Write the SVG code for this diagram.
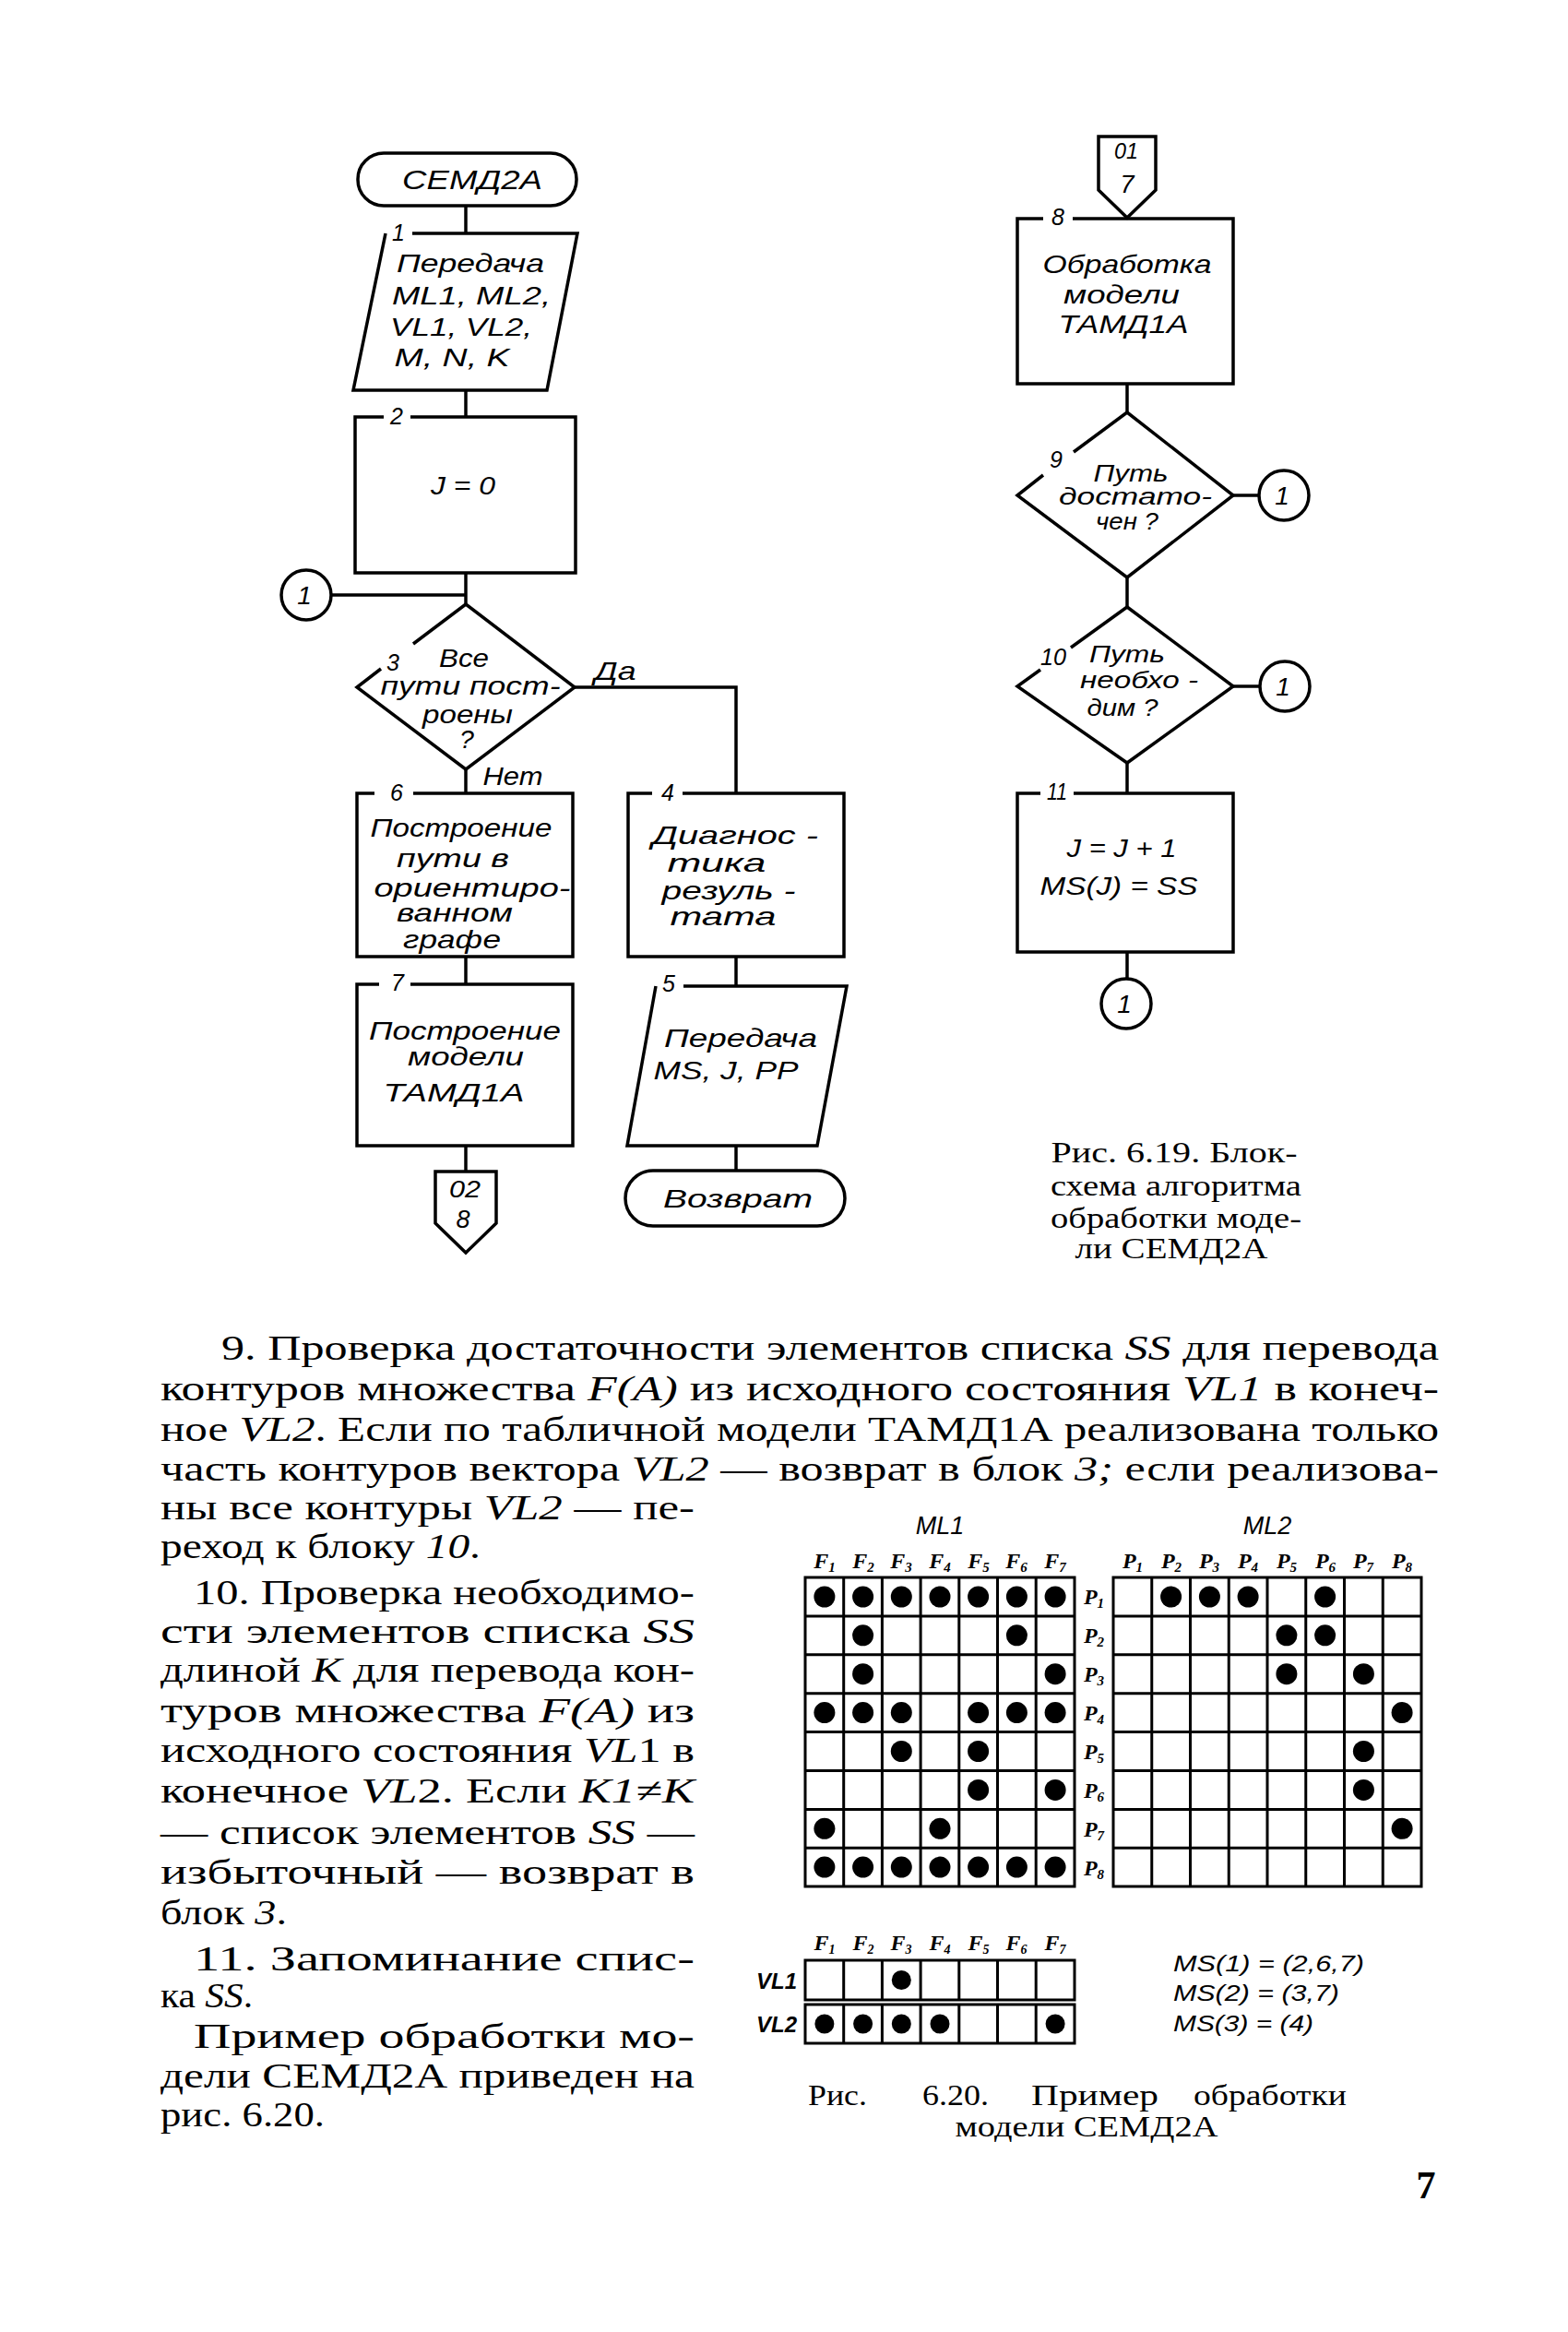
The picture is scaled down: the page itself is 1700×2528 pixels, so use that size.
<svg xmlns="http://www.w3.org/2000/svg" width="1700" height="2528" viewBox="0 0 1700 2528">
<style>
.ln{fill:none;stroke:#000;stroke-width:3.5;stroke-linejoin:miter}
.fc{font-family:"Liberation Sans","DejaVu Sans",sans-serif;font-style:italic;font-size:28px;text-anchor:middle;fill:#000}
.fd{font-family:"Liberation Sans","DejaVu Sans",sans-serif;font-style:italic;font-size:25px;text-anchor:middle;fill:#000}
.lb{font-family:"Liberation Sans","DejaVu Sans",sans-serif;font-style:italic;font-size:25px;text-anchor:middle;fill:#000}
.bd{font-family:"Liberation Serif","DejaVu Serif",serif;font-size:38px;fill:#000}
.it{font-style:italic}
.cp{font-family:"Liberation Serif","DejaVu Serif",serif;font-size:31px;text-anchor:middle;fill:#000}
.hd{font-family:"Liberation Serif","DejaVu Serif",serif;font-style:italic;font-weight:bold;font-size:24px;text-anchor:middle;fill:#000}
.tl{font-family:"Liberation Sans","DejaVu Sans",sans-serif;font-style:italic;font-size:24px;fill:#000}
.gr{fill:none;stroke:#000;stroke-width:3}
.pg{font-family:"Liberation Serif","DejaVu Serif",serif;font-weight:bold;font-size:42px;text-anchor:middle;fill:#000}
</style>
<defs>
<circle id="d" r="11.5" fill="#000"/>
<circle id="ds" r="10.5" fill="#000"/>
</defs>

<g id="connectors" class="ln">
<path d="M505,223 V253"/>
<path d="M505,423 V452"/>
<path d="M505,621 V655"/>
<path d="M359,645 H505"/>
<path d="M623,745 H798 V860"/>
<path d="M505,834 V860"/>
<path d="M505,1037 V1067"/>
<path d="M798,1037 V1069"/>
<path d="M505,1242 V1270"/>
<path d="M798,1242 V1269"/>
<path d="M1222,416 V447"/>
<path d="M1337,537 H1365"/>
<path d="M1222,626 V658"/>
<path d="M1337,744 H1366"/>
<path d="M1222,827 V860"/>
<path d="M1222,1032 V1061"/>
</g>
<g id="edge-labels">
<text class="fc" x="667" y="737" textLength="45" lengthAdjust="spacingAndGlyphs">Да</text>
<text class="fc" x="556" y="851" textLength="65" lengthAdjust="spacingAndGlyphs">Нет</text>
</g>

<g id="n-start">
<rect class="ln" x="388" y="166" width="237" height="57" rx="28"/>
<text class="fc" x="512" y="205" style="font-size:30px" textLength="152" lengthAdjust="spacingAndGlyphs">СЕМД2А</text>
</g>

<g id="n1">
<path class="ln" d="M447,253 L626,253 L593,423 L383,423 L418,253"/>
<text class="lb" x="432" y="261">1</text>
<text class="fc" x="510" y="295" textLength="160" lengthAdjust="spacingAndGlyphs">Передача</text>
<text class="fc" x="511" y="330" textLength="172" lengthAdjust="spacingAndGlyphs">ML1, ML2,</text>
<text class="fc" x="500" y="364" textLength="154" lengthAdjust="spacingAndGlyphs">VL1, VL2,</text>
<text class="fc" x="490" y="397" textLength="125" lengthAdjust="spacingAndGlyphs">M, N, K</text>
</g>

<g id="n2">
<path class="ln" d="M445,452 H624 V621 H385 V452 H416"/>
<text class="lb" x="430" y="460">2</text>
<text class="fc" x="502" y="536" textLength="70" lengthAdjust="spacingAndGlyphs">J = 0</text>
</g>

<g id="c1a">
<circle class="ln" cx="332" cy="645" r="27"/>
<text class="fc" x="330" y="655">1</text>
</g>

<g id="n3">
<path class="ln" d="M448,698 L505,655 L623,745 L505,834 L387,745 L413,725"/>
<text class="lb" x="426" y="727">3</text>
<text class="fc" x="503" y="723" textLength="54" lengthAdjust="spacingAndGlyphs">Все</text>
<text class="fc" x="510" y="753" textLength="195" lengthAdjust="spacingAndGlyphs">пути пост-</text>
<text class="fc" x="507" y="784" textLength="98" lengthAdjust="spacingAndGlyphs">роены</text>
<text class="fc" x="506" y="811">?</text>
</g>

<g id="n6">
<path class="ln" d="M448,860 H621 V1037 H387 V860 H406"/>
<text class="lb" x="430" y="868">6</text>
<text class="fc" x="500" y="907" textLength="197" lengthAdjust="spacingAndGlyphs">Построение</text>
<text class="fc" x="491" y="940" textLength="122" lengthAdjust="spacingAndGlyphs">пути в</text>
<text class="fc" x="512" y="972" textLength="213" lengthAdjust="spacingAndGlyphs">ориентиро-</text>
<text class="fc" x="493" y="999" textLength="126" lengthAdjust="spacingAndGlyphs">ванном</text>
<text class="fc" x="490" y="1028" textLength="106" lengthAdjust="spacingAndGlyphs">графе</text>
</g>

<g id="n4">
<path class="ln" d="M740,860 H915 V1037 H681 V860 H707"/>
<text class="lb" x="724" y="868">4</text>
<text class="fc" x="797" y="915" textLength="180" lengthAdjust="spacingAndGlyphs">Диагнос -</text>
<text class="fc" x="777" y="945" textLength="107" lengthAdjust="spacingAndGlyphs">тика</text>
<text class="fc" x="790" y="975" textLength="145" lengthAdjust="spacingAndGlyphs">резуль -</text>
<text class="fc" x="784" y="1003" textLength="115" lengthAdjust="spacingAndGlyphs">тата</text>
</g>

<g id="n7">
<path class="ln" d="M445,1067 H621 V1242 H387 V1067 H411"/>
<text class="lb" x="431" y="1074">7</text>
<text class="fc" x="504" y="1127" textLength="208" lengthAdjust="spacingAndGlyphs">Построение</text>
<text class="fc" x="505" y="1155" textLength="126" lengthAdjust="spacingAndGlyphs">модели</text>
<text class="fc" x="492" y="1194" textLength="153" lengthAdjust="spacingAndGlyphs">ТАМД1А</text>
</g>

<g id="n5">
<path class="ln" d="M741,1069 L918,1069 L886,1242 L680,1242 L711,1069"/>
<text class="lb" x="725" y="1075">5</text>
<text class="fc" x="803" y="1135" textLength="166" lengthAdjust="spacingAndGlyphs">Передача</text>
<text class="fc" x="787" y="1170" textLength="157" lengthAdjust="spacingAndGlyphs">MS, J, PP</text>
</g>

<g id="n-off02">
<path class="ln" d="M472,1270 H538 V1326 L505,1358 L472,1326 Z"/>
<text class="fc" x="504" y="1298" style="font-size:25px" textLength="34" lengthAdjust="spacingAndGlyphs">02</text>
<text class="fc" x="502" y="1331" style="font-size:27px">8</text>
</g>

<g id="n-ret">
<rect class="ln" x="678" y="1269" width="238" height="60" rx="30"/>
<text class="fc" x="800" y="1309" textLength="162" lengthAdjust="spacingAndGlyphs">Возврат</text>
</g>

<g id="n-off01">
<path class="ln" d="M1191,148 H1253 V206 L1222,236 L1191,206 Z"/>
<text class="fc" x="1221" y="172" style="font-size:24px" textLength="26" lengthAdjust="spacingAndGlyphs">01</text>
<text class="fc" x="1222" y="209" style="font-size:27px">7</text>
</g>

<g id="n8">
<path class="ln" d="M1163,237 H1337 V416 H1103 V237 H1131"/>
<text class="lb" x="1147" y="244">8</text>
<text class="fc" x="1222" y="296" textLength="183" lengthAdjust="spacingAndGlyphs">Обработка</text>
<text class="fc" x="1216" y="329" textLength="126" lengthAdjust="spacingAndGlyphs">модели</text>
<text class="fc" x="1218" y="361" textLength="141" lengthAdjust="spacingAndGlyphs">ТАМД1А</text>
</g>

<g id="n9">
<path class="ln" d="M1164,490 L1222,447 L1337,537 L1222,626 L1103,537 L1131,515"/>
<text class="lb" x="1145" y="507">9</text>
<text class="fd" x="1226" y="522" textLength="81" lengthAdjust="spacingAndGlyphs">Путь</text>
<text class="fd" x="1231" y="547" textLength="166" lengthAdjust="spacingAndGlyphs">достато-</text>
<text class="fd" x="1222" y="574" textLength="68" lengthAdjust="spacingAndGlyphs">чен ?</text>
</g>

<g id="c1b">
<circle class="ln" cx="1392" cy="537" r="27"/>
<text class="fc" x="1390" y="547">1</text>
</g>

<g id="n10">
<path class="ln" d="M1161,702 L1222,658 L1337,744 L1222,827 L1103,744 L1128,726"/>
<text class="lb" x="1142" y="721" textLength="28" lengthAdjust="spacingAndGlyphs">10</text>
<text class="fd" x="1222" y="718" textLength="82" lengthAdjust="spacingAndGlyphs">Путь</text>
<text class="fd" x="1235" y="746" textLength="128" lengthAdjust="spacingAndGlyphs">необхо -</text>
<text class="fd" x="1217" y="776" textLength="77" lengthAdjust="spacingAndGlyphs">дим ?</text>
</g>

<g id="c1c">
<circle class="ln" cx="1393" cy="744" r="27"/>
<text class="fc" x="1391" y="754">1</text>
</g>

<g id="n11">
<path class="ln" d="M1164,860 H1337 V1032 H1103 V860 H1128"/>
<text class="lb" x="1146" y="867" textLength="22" lengthAdjust="spacingAndGlyphs">11</text>
<text class="fc" x="1216" y="929" textLength="119" lengthAdjust="spacingAndGlyphs">J = J + 1</text>
<text class="fc" x="1213" y="970" textLength="171" lengthAdjust="spacingAndGlyphs">MS(J) = SS</text>
</g>

<g id="c1d">
<circle class="ln" cx="1221" cy="1088" r="27"/>
<text class="fc" x="1219" y="1098">1</text>
</g>

<g id="caption-619">
<text class="cp" x="1273" y="1260" textLength="267" lengthAdjust="spacingAndGlyphs">Рис. 6.19. Блок-</text>
<text class="cp" x="1275" y="1296" textLength="272" lengthAdjust="spacingAndGlyphs">схема алгоритма</text>
<text class="cp" x="1275" y="1331" textLength="272" lengthAdjust="spacingAndGlyphs">обработки моде-</text>
<text class="cp" x="1270" y="1364" textLength="209" lengthAdjust="spacingAndGlyphs">ли СЕМД2А</text>
</g>

<g id="body-text">
<text class="bd" x="240" y="1474" textLength="1320" lengthAdjust="spacingAndGlyphs">9. Проверка достаточности элементов списка <tspan class="it">SS</tspan> для перевода</text>
<text class="bd" x="174" y="1518" textLength="1386" lengthAdjust="spacingAndGlyphs">контуров множества <tspan class="it">F(A)</tspan> из исходного состояния <tspan class="it">VL1</tspan> в конеч-</text>
<text class="bd" x="174" y="1562" textLength="1386" lengthAdjust="spacingAndGlyphs">ное <tspan class="it">VL2</tspan>. Если по табличной модели ТАМД1А реализована только</text>
<text class="bd" x="174" y="1605" textLength="1386" lengthAdjust="spacingAndGlyphs">часть контуров вектора <tspan class="it">VL2</tspan> — возврат в блок <tspan class="it">3;</tspan> если реализова-</text>
<text class="bd" x="174" y="1647" textLength="579" lengthAdjust="spacingAndGlyphs">ны все контуры <tspan class="it">VL2</tspan> — пе-</text>
<text class="bd" x="174" y="1689" textLength="347" lengthAdjust="spacingAndGlyphs">реход к блоку <tspan class="it">10</tspan>.</text>
<text class="bd" x="210" y="1739" textLength="543" lengthAdjust="spacingAndGlyphs">10. Проверка необходимо-</text>
<text class="bd" x="174" y="1781" textLength="579" lengthAdjust="spacingAndGlyphs">сти элементов списка <tspan class="it">SS</tspan></text>
<text class="bd" x="174" y="1823" textLength="579" lengthAdjust="spacingAndGlyphs">длиной <tspan class="it">K</tspan> для перевода кон-</text>
<text class="bd" x="174" y="1867" textLength="579" lengthAdjust="spacingAndGlyphs">туров множества <tspan class="it">F(A)</tspan> из</text>
<text class="bd" x="174" y="1910" textLength="579" lengthAdjust="spacingAndGlyphs">исходного состояния <tspan class="it">VL</tspan>1 в</text>
<text class="bd" x="174" y="1954" textLength="579" lengthAdjust="spacingAndGlyphs">конечное <tspan class="it">VL</tspan>2. Если <tspan class="it">K1≠K</tspan></text>
<text class="bd" x="174" y="1999" textLength="579" lengthAdjust="spacingAndGlyphs">— список элементов <tspan class="it">SS</tspan> —</text>
<text class="bd" x="174" y="2042" textLength="579" lengthAdjust="spacingAndGlyphs">избыточный — возврат в</text>
<text class="bd" x="174" y="2086" textLength="137" lengthAdjust="spacingAndGlyphs">блок <tspan class="it">3</tspan>.</text>
<text class="bd" x="210" y="2136" textLength="543" lengthAdjust="spacingAndGlyphs">11. Запоминание спис-</text>
<text class="bd" x="174" y="2176" textLength="100" lengthAdjust="spacingAndGlyphs">ка <tspan class="it">SS</tspan>.</text>
<text class="bd" x="210" y="2220" textLength="543" lengthAdjust="spacingAndGlyphs">Пример обработки мо-</text>
<text class="bd" x="174" y="2263" textLength="579" lengthAdjust="spacingAndGlyphs">дели СЕМД2А приведен на</text>
<text class="bd" x="174" y="2305" textLength="178" lengthAdjust="spacingAndGlyphs">рис. 6.20.</text>
</g>

<g id="table-ML1">
<text class="tl" x="1019" y="1663" text-anchor="middle" style="font-size:27px">ML1</text>
<g class="hd">
<text x="894" y="1700">F<tspan font-size="15" dy="4">1</tspan></text>
<text x="936" y="1700">F<tspan font-size="15" dy="4">2</tspan></text>
<text x="977" y="1700">F<tspan font-size="15" dy="4">3</tspan></text>
<text x="1019" y="1700">F<tspan font-size="15" dy="4">4</tspan></text>
<text x="1061" y="1700">F<tspan font-size="15" dy="4">5</tspan></text>
<text x="1102" y="1700">F<tspan font-size="15" dy="4">6</tspan></text>
<text x="1144" y="1700">F<tspan font-size="15" dy="4">7</tspan></text>
</g>
<path class="gr" d="M873,1710 H1165 V2045 H873 Z M914.7,1710 V2045 M956.4,1710 V2045 M998.1,1710 V2045 M1039.8,1710 V2045 M1081.5,1710 V2045 M1123.2,1710 V2045 M873,1751.9 H1165 M873,1793.8 H1165 M873,1835.7 H1165 M873,1877.6 H1165 M873,1919.5 H1165 M873,1961.4 H1165 M873,2003.3 H1165"/>
<use href="#d" x="893.9" y="1731"/><use href="#d" x="935.6" y="1731"/><use href="#d" x="977.3" y="1731"/><use href="#d" x="1019" y="1731"/><use href="#d" x="1060.6" y="1731"/><use href="#d" x="1102.4" y="1731"/><use href="#d" x="1144.1" y="1731"/>
<use href="#d" x="935.6" y="1772.8"/><use href="#d" x="1102.4" y="1772.8"/>
<use href="#d" x="935.6" y="1814.7"/><use href="#d" x="1144.1" y="1814.7"/>
<use href="#d" x="893.9" y="1856.6"/><use href="#d" x="935.6" y="1856.6"/><use href="#d" x="977.3" y="1856.6"/><use href="#d" x="1060.6" y="1856.6"/><use href="#d" x="1102.4" y="1856.6"/><use href="#d" x="1144.1" y="1856.6"/>
<use href="#d" x="977.3" y="1898.5"/><use href="#d" x="1060.6" y="1898.5"/>
<use href="#d" x="1060.6" y="1940.4"/><use href="#d" x="1144.1" y="1940.4"/>
<use href="#d" x="893.9" y="1982.3"/><use href="#d" x="1019" y="1982.3"/>
<use href="#d" x="893.9" y="2024.1"/><use href="#d" x="935.6" y="2024.1"/><use href="#d" x="977.3" y="2024.1"/><use href="#d" x="1019" y="2024.1"/><use href="#d" x="1060.6" y="2024.1"/><use href="#d" x="1102.4" y="2024.1"/><use href="#d" x="1144.1" y="2024.1"/>
</g>

<g id="row-labels">
<g class="hd">
<text x="1186" y="1739">P<tspan font-size="15" dy="4">1</tspan></text>
<text x="1186" y="1781">P<tspan font-size="15" dy="4">2</tspan></text>
<text x="1186" y="1823">P<tspan font-size="15" dy="4">3</tspan></text>
<text x="1186" y="1865">P<tspan font-size="15" dy="4">4</tspan></text>
<text x="1186" y="1907">P<tspan font-size="15" dy="4">5</tspan></text>
<text x="1186" y="1949">P<tspan font-size="15" dy="4">6</tspan></text>
<text x="1186" y="1991">P<tspan font-size="15" dy="4">7</tspan></text>
<text x="1186" y="2033">P<tspan font-size="15" dy="4">8</tspan></text>
</g>
</g>

<g id="table-ML2">
<text class="tl" x="1374" y="1663" text-anchor="middle" style="font-size:27px">ML2</text>
<g class="hd">
<text x="1228" y="1700">P<tspan font-size="15" dy="4">1</tspan></text>
<text x="1270" y="1700">P<tspan font-size="15" dy="4">2</tspan></text>
<text x="1311" y="1700">P<tspan font-size="15" dy="4">3</tspan></text>
<text x="1353" y="1700">P<tspan font-size="15" dy="4">4</tspan></text>
<text x="1395" y="1700">P<tspan font-size="15" dy="4">5</tspan></text>
<text x="1437" y="1700">P<tspan font-size="15" dy="4">6</tspan></text>
<text x="1478" y="1700">P<tspan font-size="15" dy="4">7</tspan></text>
<text x="1520" y="1700">P<tspan font-size="15" dy="4">8</tspan></text>
</g>
<path class="gr" d="M1207,1710 H1541 V2045 H1207 Z M1248.75,1710 V2045 M1290.5,1710 V2045 M1332.25,1710 V2045 M1374,1710 V2045 M1415.75,1710 V2045 M1457.5,1710 V2045 M1499.25,1710 V2045 M1207,1751.9 H1541 M1207,1793.8 H1541 M1207,1835.7 H1541 M1207,1877.6 H1541 M1207,1919.5 H1541 M1207,1961.4 H1541 M1207,2003.3 H1541"/>
<use href="#d" x="1269.6" y="1731"/><use href="#d" x="1311.4" y="1731"/><use href="#d" x="1353.1" y="1731"/><use href="#d" x="1436.6" y="1731"/>
<use href="#d" x="1394.9" y="1772.8"/><use href="#d" x="1436.6" y="1772.8"/>
<use href="#d" x="1394.9" y="1814.7"/><use href="#d" x="1478.4" y="1814.7"/>
<use href="#d" x="1520.1" y="1856.6"/>
<use href="#d" x="1478.4" y="1898.5"/>
<use href="#d" x="1478.4" y="1940.4"/>
<use href="#d" x="1520.1" y="1982.3"/>
</g>

<g id="table-VL">
<g class="hd">
<text x="894" y="2114">F<tspan font-size="14" dy="4">1</tspan></text>
<text x="936" y="2114">F<tspan font-size="14" dy="4">2</tspan></text>
<text x="977" y="2114">F<tspan font-size="14" dy="4">3</tspan></text>
<text x="1019" y="2114">F<tspan font-size="14" dy="4">4</tspan></text>
<text x="1061" y="2114">F<tspan font-size="14" dy="4">5</tspan></text>
<text x="1102" y="2114">F<tspan font-size="14" dy="4">6</tspan></text>
<text x="1144" y="2114">F<tspan font-size="14" dy="4">7</tspan></text>
</g>
<text class="tl" x="842" y="2156" text-anchor="middle" font-weight="bold">VL1</text>
<text class="tl" x="842" y="2203" text-anchor="middle" font-weight="bold">VL2</text>
<path class="gr" d="M873,2125 H1165 V2168 H873 Z M873,2173 H1165 V2215 H873 Z M914.7,2125 V2168 M956.4,2125 V2168 M998.1,2125 V2168 M1039.8,2125 V2168 M1081.5,2125 V2168 M1123.2,2125 V2168 M914.7,2173 V2215 M956.4,2173 V2215 M998.1,2173 V2215 M1039.8,2173 V2215 M1081.5,2173 V2215 M1123.2,2173 V2215"/>
<use href="#ds" x="977.3" y="2146.5"/>
<use href="#ds" x="893.9" y="2194"/><use href="#ds" x="935.6" y="2194"/><use href="#ds" x="977.3" y="2194"/><use href="#ds" x="1019" y="2194"/><use href="#ds" x="1144.1" y="2194"/>
<text class="tl" x="1272" y="2137" textLength="207" lengthAdjust="spacingAndGlyphs">MS(1) = (2,6,7)</text>
<text class="tl" x="1272" y="2169" textLength="180" lengthAdjust="spacingAndGlyphs">MS(2) = (3,7)</text>
<text class="tl" x="1272" y="2202" textLength="152" lengthAdjust="spacingAndGlyphs">MS(3) = (4)</text>
</g>

<g id="caption-620">
<text class="cp" x="908" y="2282" textLength="64" lengthAdjust="spacingAndGlyphs">Рис.</text>
<text class="cp" x="1036" y="2282" textLength="72" lengthAdjust="spacingAndGlyphs">6.20.</text>
<text class="cp" x="1187" y="2282" textLength="138" lengthAdjust="spacingAndGlyphs">Пример</text>
<text class="cp" x="1377" y="2282" textLength="166" lengthAdjust="spacingAndGlyphs">обработки</text>
<text class="cp" x="1178" y="2316" textLength="285" lengthAdjust="spacingAndGlyphs">модели СЕМД2А</text>
</g>

<text class="pg" x="1546" y="2383">7</text>
</svg>
